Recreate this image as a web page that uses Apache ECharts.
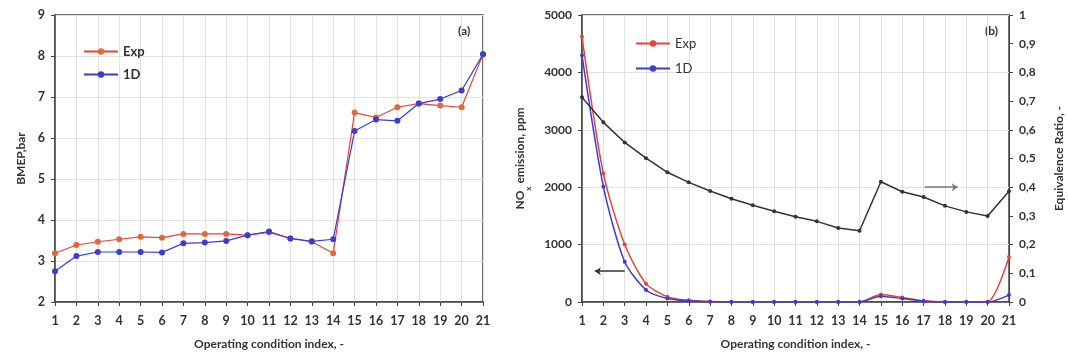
<!DOCTYPE html>
<html>
<head>
<meta charset="utf-8">
<script src="https://cdn.jsdelivr.net/npm/echarts@6/dist/echarts.min.js"></script>
<style>
html,body{margin:0;padding:0;background:#fff;}
#chart{width:1068px;height:361px;}
</style>
</head>
<body>
<div id="chart"></div>
<script>
const categories = ['1','2','3','4','5','6','7','8','9','10','11','12','13','14','15','16','17','18','19','20','21'];
const bmepExp = [3.19,3.39,3.47,3.53,3.59,3.57,3.66,3.66,3.66,3.63,3.70,3.55,3.47,3.19,6.62,6.50,6.75,6.84,6.79,6.75,8.04];
const bmep1D  = [2.75,3.12,3.22,3.22,3.22,3.21,3.43,3.45,3.49,3.63,3.72,3.55,3.48,3.53,6.17,6.45,6.42,6.84,6.95,7.16,8.04];
const noxExp  = [4620,2240,1000,320,90,30,10,5,5,5,5,5,5,5,130,80,20,5,5,5,785];
const nox1D   = [4300,2010,700,210,60,20,5,0,0,0,0,0,0,0,100,60,15,0,0,0,120];
const phi     = [0.713,0.626,0.556,0.501,0.452,0.417,0.387,0.360,0.337,0.316,0.297,0.281,0.258,0.248,0.419,0.384,0.366,0.335,0.314,0.300,0.386];
const noxArrow = [[1.6,536],[3.0,536]];
const phiArrow = [[17.05,0.40],[18.6,0.40]];

const pairs = arr => categories.map((c,i)=>[+c, arr[i]]);
const FONT = 'Lato';
const txt = {color:'#333', fontFamily:FONT, fontWeight:'bold', fontSize:12};
const RED = '#e0443c', BLUE = '#3c3cd0';

function xAx(gi){
  return {
    type:'value', gridIndex:gi, min:1, max:21, interval:1,
    name:'Operating condition index, -', nameLocation:'middle', nameGap:36,
    nameTextStyle:Object.assign({}, txt, {fontSize:12}),
    axisLabel:Object.assign({}, txt, {margin:12, fontSize:12.5}),
    axisLine:{lineStyle:{color:'#444', width:1.5}},
    axisTick:{show:true, length:4, lineStyle:{color:'#444'}},
    splitLine:{show:true, lineStyle:{color:'#e2e2e2'}}
  };
}

const option = {
  animation:false,
  backgroundColor:'#fff',
  grid:[
    {left:55, right:585, top:15, bottom:59, show:true, borderColor:'#444', borderWidth:1.5},
    {left:582, right:59, top:15, bottom:59, show:true, borderColor:'#444', borderWidth:1.5}
  ],
  legend:[
    {data:['Exp','1D'], left:78, top:40, orient:'vertical', itemGap:10, itemWidth:34, itemHeight:8,
     textStyle:Object.assign({}, txt, {fontSize:13})},
    {data:['Exp ','1D '], left:630, top:32, orient:'vertical', itemGap:12, itemWidth:34, itemHeight:8,
     textStyle:Object.assign({}, txt, {fontSize:13, fontWeight:'normal'})}
  ],
  xAxis:[xAx(0), xAx(1)],
  yAxis:[
    {type:'value', gridIndex:0, min:2, max:9, interval:1,
     name:'BMEP,bar', nameLocation:'middle', nameGap:28, nameRotate:90,
     nameTextStyle:txt, axisLabel:Object.assign({}, txt, {margin:10, fontSize:12.5}),
     axisLine:{show:true, lineStyle:{color:'#444', width:1.5}},
     axisTick:{show:true, length:4, lineStyle:{color:'#444'}},
     splitLine:{show:true, lineStyle:{color:'#e2e2e2'}}},
    {type:'value', gridIndex:1, min:0, max:5000, interval:1000,
     name:'NO{s|x} emission, ppm', nameLocation:'middle', nameGap:56, nameRotate:90,
     nameTextStyle:Object.assign({}, txt, {rich:{s:{fontSize:8, fontFamily:FONT, fontWeight:'bold', color:'#333', verticalAlign:'bottom', padding:[0,0,-6,0]}}}),
     axisLabel:Object.assign({}, txt, {margin:10, formatter:v=>String(v)}),
     axisLine:{show:true, lineStyle:{color:'#444', width:1.5}},
     axisTick:{show:true, length:4, lineStyle:{color:'#444'}},
     splitLine:{show:true, lineStyle:{color:'#e2e2e2'}}},
    {type:'value', gridIndex:1, position:'right', min:0, max:1, interval:0.1,
     name:'Equivalence Ratio, -', nameLocation:'middle', nameGap:44, nameRotate:90,
     nameTextStyle:txt,
     axisLabel:Object.assign({}, txt, {margin:10, formatter:v=>String(+v.toFixed(1)).replace('.',',')}),
     axisLine:{show:true, lineStyle:{color:'#444', width:1}},
     axisTick:{show:true, length:4, lineStyle:{color:'#444'}},
     splitLine:{show:false}}
  ],
  series:[
    {name:'Exp', type:'line', xAxisIndex:0, yAxisIndex:0, data:pairs(bmepExp),
     symbol:'circle', symbolSize:6, lineStyle:{color:RED, width:1.2}, itemStyle:{color:'#e2683a'}},
    {name:'1D', type:'line', xAxisIndex:0, yAxisIndex:0, data:pairs(bmep1D),
     symbol:'circle', symbolSize:6, lineStyle:{color:BLUE, width:1.2}, itemStyle:{color:BLUE}},
    {name:'Exp ', type:'line', xAxisIndex:1, yAxisIndex:1, data:pairs(noxExp), smooth:0.25,
     symbol:'circle', symbolSize:4, lineStyle:{color:RED, width:1.5}, itemStyle:{color:RED}},
    {name:'1D ', type:'line', xAxisIndex:1, yAxisIndex:1, data:pairs(nox1D), smooth:0.25,
     symbol:'circle', symbolSize:4, lineStyle:{color:BLUE, width:1.5}, itemStyle:{color:BLUE},
     markLine:{silent:true, symbol:['arrow','none'], symbolSize:6, label:{show:false},
       lineStyle:{color:'#333', width:1.5, type:'solid'},
       data:[[{coord:noxArrow[0]},{coord:noxArrow[1]}]]}},
    {name:'phi', type:'line', xAxisIndex:1, yAxisIndex:2, data:pairs(phi),
     symbol:'circle', symbolSize:4, lineStyle:{color:'#333', width:1.5}, itemStyle:{color:'#333'},
     markLine:{silent:true, symbol:['none','arrow'], symbolSize:6, label:{show:false},
       lineStyle:{color:'#777', width:1.5, type:'solid'},
       data:[[{coord:phiArrow[0]},{coord:phiArrow[1]}]]}}
  ],
  graphic:[
    {type:'text', left:458, top:25, style:{text:'(a)', fill:'#333', font:'bold 12px Lato'}},
    {type:'text', left:985, top:25, style:{text:'(b)', fill:'#333', font:'bold 12px Lato'}}
  ]
};
const chart = echarts.init(document.getElementById('chart'), null, {renderer:'canvas'});
chart.setOption(option);
</script>
</body>
</html>
